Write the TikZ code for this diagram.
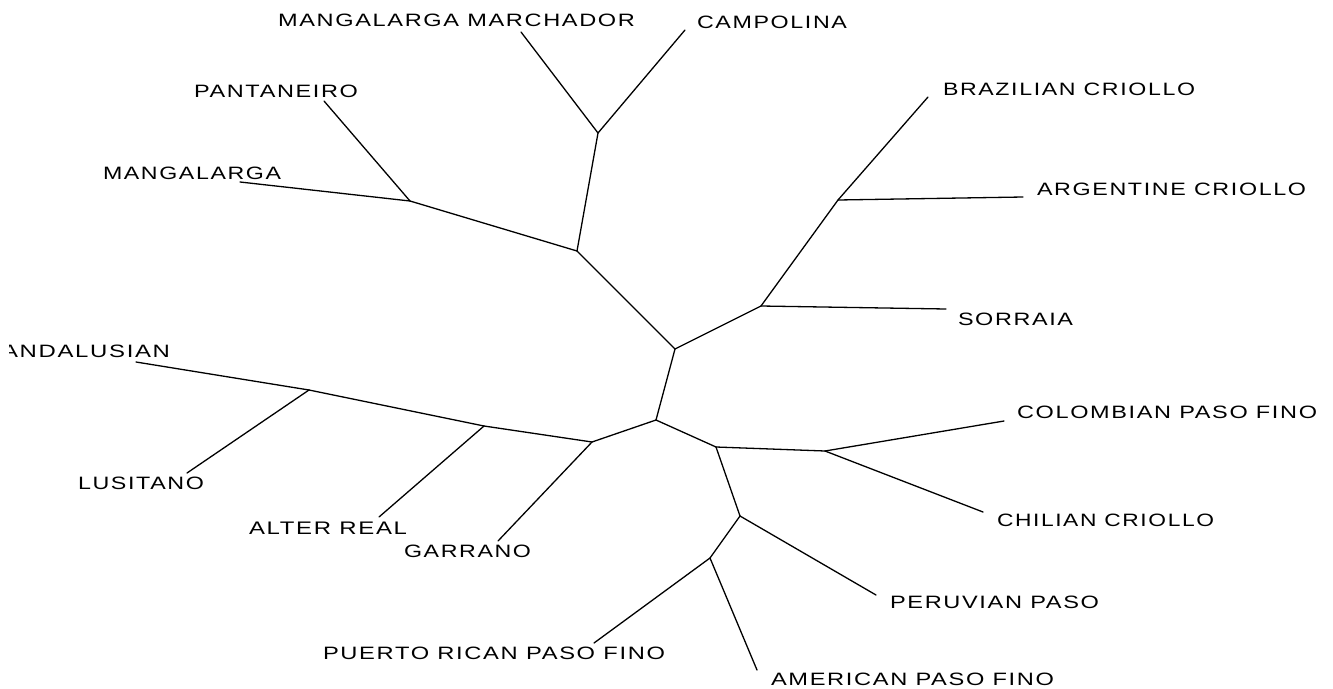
\documentclass[tikz,border=0pt]{standalone}
\usepackage{fontspec}
\setmainfont[LetterSpace=7]{Liberation Sans}
\newcommand\brlabel[2]{\resizebox{#1pt}{12.5pt}{#2}}
\begin{document}
\begin{tikzpicture}[x=1pt,y=-1pt,
  edge/.style={line width=1.3pt, line cap=round, line join=round},
  lbl/.style={anchor=base west, inner sep=0pt, outer sep=0pt}]
\useasboundingbox (0,0) rectangle (1333,688);
% internal nodes
\coordinate (A) at (675,349);
\coordinate (B) at (656,420);
\coordinate (C) at (577,251);
\coordinate (D) at (598,133);
\coordinate (E) at (410,201);
\coordinate (F) at (761,306);
\coordinate (G) at (838,200);
\coordinate (H) at (592,442);
\coordinate (I) at (484,426);
\coordinate (J) at (309,390);
\coordinate (K) at (716,447);
\coordinate (L) at (825,451);
\coordinate (M) at (740,516);
\coordinate (N) at (710,558);
% leaf ends
\coordinate (mm) at (521,32);
\coordinate (camp) at (685,30);
\coordinate (pant) at (324,101);
\coordinate (mang) at (240,182);
\coordinate (braz) at (928,97);
\coordinate (arg) at (1023,197);
\coordinate (sorr) at (946,309);
\coordinate (andal) at (136,362);
\coordinate (lus) at (187,473);
\coordinate (alt) at (379,517);
\coordinate (garr) at (498,541);
\coordinate (col) at (1004,421);
\coordinate (chil) at (983,512);
\coordinate (per) at (876,595);
\coordinate (pr) at (594,643);
\coordinate (am) at (757,670);
% edges
\draw[edge] (A) -- (B);
\draw[edge] (A) -- (C);
\draw[edge] (A) -- (F);
\draw[edge] (C) -- (D);
\draw[edge] (C) -- (E);
\draw[edge] (D) -- (mm);
\draw[edge] (D) -- (camp);
\draw[edge] (E) -- (pant);
\draw[edge] (E) -- (mang);
\draw[edge] (F) -- (G);
\draw[edge] (F) -- (sorr);
\draw[edge] (G) -- (braz);
\draw[edge] (G) -- (arg);
\draw[edge] (B) -- (H);
\draw[edge] (B) -- (K);
\draw[edge] (H) -- (I);
\draw[edge] (H) -- (garr);
\draw[edge] (I) -- (J);
\draw[edge] (I) -- (alt);
\draw[edge] (J) -- (andal);
\draw[edge] (J) -- (lus);
\draw[edge] (K) -- (L);
\draw[edge] (K) -- (M);
\draw[edge] (L) -- (col);
\draw[edge] (L) -- (chil);
\draw[edge] (M) -- (per);
\draw[edge] (M) -- (N);
\draw[edge] (N) -- (pr);
\draw[edge] (N) -- (am);
% labels
\node[lbl] (tmm) at (278,27) {\brlabel{357}{MANGALARGA MARCHADOR}};
\node[lbl] (tcamp) at (697,28) {\brlabel{150}{CAMPOLINA}};
\node[lbl] (tpant) at (194,97) {\brlabel{164}{PANTANEIRO}};
\node[lbl] (tmang) at (103,179) {\brlabel{178}{MANGALARGA}};
\node[lbl] (tbraz) at (943,95) {\brlabel{252}{BRAZILIAN CRIOLLO}};
\node[lbl] (targ) at (1037,195) {\brlabel{269}{ARGENTINE CRIOLLO}};
\node[lbl] (tsorr) at (958,325) {\brlabel{115}{SORRAIA}};
\begin{scope}
\clip (9,320) rectangle (300,380);
\node[lbl] (tandal) at (2,357) {\brlabel{168}{ANDALUSIAN}};
\end{scope}
\node[lbl] (tlus) at (78,489) {\brlabel{126}{LUSITANO}};
\node[lbl] (talt) at (249,534) {\brlabel{158}{ALTER REAL}};
\node[lbl] (tgarr) at (404,557) {\brlabel{127}{GARRANO}};
\node[lbl] (tcol) at (1017,418) {\brlabel{300}{COLOMBIAN PASO FINO}};
\node[lbl] (tchil) at (997,526) {\brlabel{217}{CHILIAN CRIOLLO}};
\node[lbl] (tper) at (890,608) {\brlabel{209}{PERUVIAN PASO}};
\node[lbl] (tpr) at (323,659) {\brlabel{342}{PUERTO RICAN PASO FINO}};
\node[lbl] (tam) at (771,685) {\brlabel{283}{AMERICAN PASO FINO}};
\end{tikzpicture}
\end{document}
